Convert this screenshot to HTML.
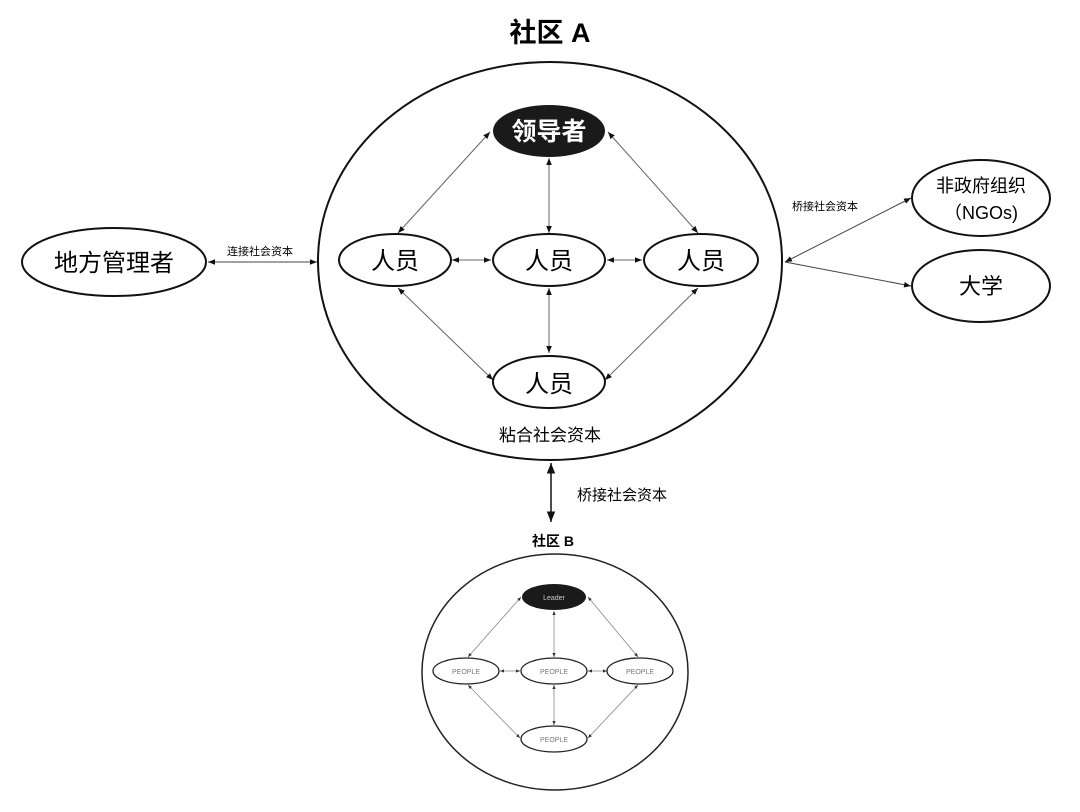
<!DOCTYPE html>
<html><head><meta charset="utf-8"><style>
body{margin:0;background:#fff}
svg text{font-family:"Liberation Sans","Noto Sans CJK SC",sans-serif;}
</style></head><body>
<svg width="1080" height="807" viewBox="0 0 1080 807" xmlns="http://www.w3.org/2000/svg">
<defs>
<marker id="a" viewBox="0 0 10 10" refX="10" refY="5" markerWidth="7" markerHeight="7" orient="auto-start-reverse"><path d="M0,1 L10,5 L0,9 z" fill="#111"/></marker>
<marker id="b" viewBox="0 0 10 10" refX="10" refY="5" markerWidth="5" markerHeight="5" orient="auto-start-reverse"><path d="M0,1 L10,5 L0,9 z" fill="#333"/></marker>
</defs>
<text x="550" y="42" font-size="27" font-weight="bold" text-anchor="middle">社区 A</text>
<ellipse cx="550" cy="261" rx="232" ry="199" fill="none" stroke="#111" stroke-width="2"/>
<g stroke="#666" stroke-width="1" marker-start="url(#a)" marker-end="url(#a)">
<line x1="490" y1="132" x2="398" y2="233"/>
<line x1="608" y1="132" x2="698" y2="233"/>
<line x1="549" y1="158" x2="549" y2="233"/>
<line x1="452" y1="260" x2="491" y2="260"/>
<line x1="607" y1="260" x2="642" y2="260"/>
<line x1="549" y1="288" x2="549" y2="353"/>
<line x1="398" y1="288" x2="493" y2="380"/>
<line x1="698" y1="288" x2="605" y2="380"/>
</g>
<ellipse cx="549" cy="131" rx="56" ry="26" fill="#1a1a1a"/>
<text x="549" y="140" font-size="25" fill="#fff" text-anchor="middle" font-weight="bold">领导者</text>
<g fill="#fff" stroke="#111" stroke-width="2">
<ellipse cx="395" cy="260" rx="56" ry="26"/>
<ellipse cx="549" cy="260" rx="56" ry="26"/>
<ellipse cx="701" cy="260" rx="57" ry="26"/>
<ellipse cx="549" cy="382" rx="56" ry="26"/>
</g>
<g font-size="24" text-anchor="middle">
<text x="395" y="269">人员</text><text x="549" y="269">人员</text><text x="701" y="269">人员</text><text x="549" y="392">人员</text>
</g>
<text x="550" y="441" font-size="17" text-anchor="middle">粘合社会资本</text>
<ellipse cx="114" cy="262" rx="92" ry="34" fill="none" stroke="#111" stroke-width="2"/>
<text x="114" y="271" font-size="24" text-anchor="middle">地方管理者</text>
<line x1="208" y1="262" x2="317" y2="262" stroke="#444" stroke-width="1" marker-start="url(#a)" marker-end="url(#a)"/>
<text x="260" y="255" font-size="11" text-anchor="middle">连接社会资本</text>
<ellipse cx="981" cy="198" rx="69" ry="38" fill="none" stroke="#111" stroke-width="2"/>
<text x="981" y="192" font-size="18" text-anchor="middle">非政府组织</text>
<text x="981" y="219" font-size="18" text-anchor="middle">（NGOs)</text>
<ellipse cx="981" cy="286" rx="69" ry="36" fill="none" stroke="#111" stroke-width="2"/>
<text x="981" y="294" font-size="22" text-anchor="middle">大学</text>
<line x1="785" y1="262" x2="911" y2="198" stroke="#444" stroke-width="1" marker-start="url(#a)" marker-end="url(#a)"/>
<line x1="785" y1="262" x2="911" y2="286" stroke="#444" stroke-width="1" marker-end="url(#a)"/>
<text x="825" y="210" font-size="11" text-anchor="middle">桥接社会资本</text>
<line x1="551" y1="463" x2="551" y2="522" stroke="#111" stroke-width="1.5" marker-start="url(#a)" marker-end="url(#a)"/>
<text x="622" y="500" font-size="15" text-anchor="middle">桥接社会资本</text>
<text x="553" y="546" font-size="14" font-weight="bold" text-anchor="middle">社区 B</text>
<ellipse cx="555" cy="672" rx="133" ry="118" fill="none" stroke="#222" stroke-width="1.5"/>
<g stroke="#888" stroke-width="0.8" marker-start="url(#b)" marker-end="url(#b)">
<line x1="521" y1="597" x2="468" y2="657"/>
<line x1="588" y1="597" x2="638" y2="657"/>
<line x1="554" y1="611" x2="554" y2="657"/>
<line x1="500" y1="671" x2="520" y2="671"/>
<line x1="588" y1="671" x2="607" y2="671"/>
<line x1="554" y1="685" x2="554" y2="725"/>
<line x1="468" y1="685" x2="520" y2="738"/>
<line x1="638" y1="685" x2="588" y2="738"/>
</g>
<ellipse cx="554" cy="597" rx="32" ry="13" fill="#1a1a1a"/>
<text x="554" y="600" font-size="7" fill="#ccc" text-anchor="middle">Leader</text>
<g fill="#fff" stroke="#222" stroke-width="1.3">
<ellipse cx="466" cy="671" rx="33" ry="13"/><ellipse cx="554" cy="671" rx="33" ry="13"/><ellipse cx="640" cy="671" rx="33" ry="13"/><ellipse cx="554" cy="739" rx="33" ry="13"/>
</g>
<g font-size="7" fill="#777" text-anchor="middle">
<text x="466" y="674">PEOPLE</text><text x="554" y="674">PEOPLE</text><text x="640" y="674">PEOPLE</text><text x="554" y="742">PEOPLE</text>
</g>
</svg>
</body></html>
